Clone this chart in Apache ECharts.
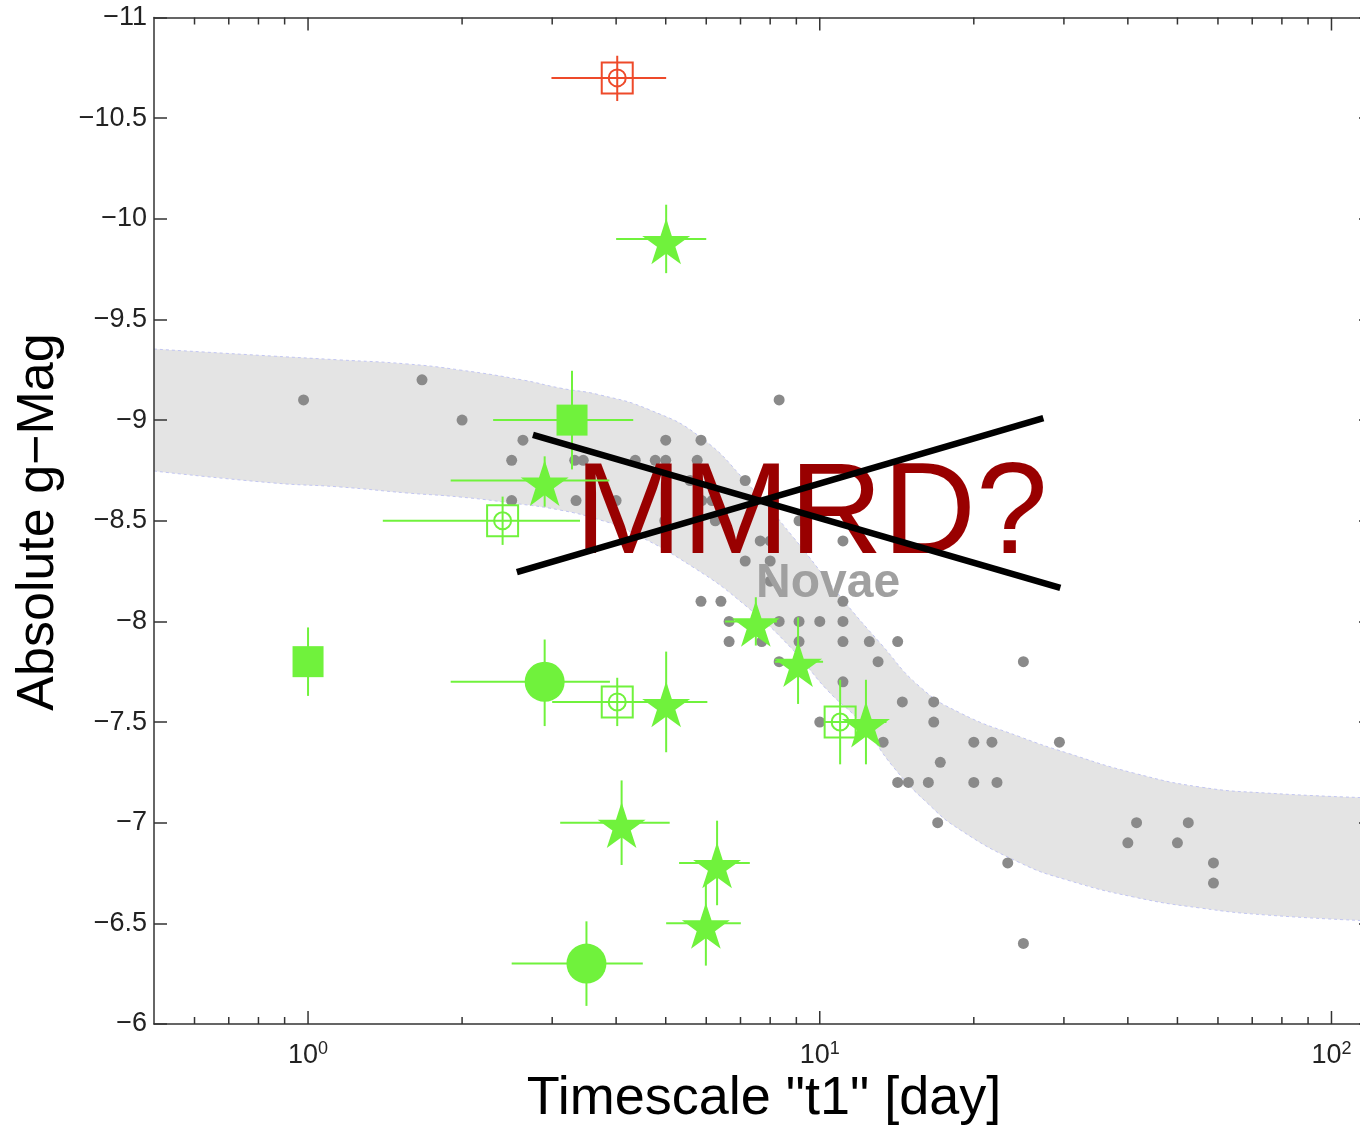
<!DOCTYPE html>
<html><head><meta charset="utf-8">
<script src="https://cdn.jsdelivr.net/npm/echarts@6/dist/echarts.min.js"></script>
<style>html,body{margin:0;padding:0;background:#fff;overflow:hidden}#c{width:1390px;height:1129px}</style>
</head><body><div id="c"></div>
<script>
// ---------- data ----------
const xRange = [0.5, 120];
const yRange = [-11, -6];
const yStep = 0.5;

// grey nova dots
const novaT = [1.67, 0.98, 8.33, 2.0, 2.63, 5.0, 5.86, 2.5, 3.32, 3.45, 4.36, 4.77, 5.0, 5.76,
  5.58, 7.15, 2.5, 3.34, 4.0, 5.88, 6.16, 4.98, 6.25, 9.11, 7.65, 8.0, 11.1, 7.15, 8.0, 8.0,
  5.86, 6.41, 11.1, 6.65, 8.33, 9.11, 10.0, 11.1, 6.65, 7.70, 9.11, 11.1, 12.5, 14.2,
  8.33, 13.0, 25.0, 11.1, 14.5, 16.7, 10.0, 16.7, 13.3, 20.0, 21.7, 29.4, 17.2,
  14.2, 14.9, 16.3, 20.0, 22.2, 17.0, 41.6, 52.5, 40.0, 50.0, 23.3, 58.8, 58.8, 25.0];
const novaMag = [-9.2, -9.1, -9.1, -9.0, -8.9, -8.9, -8.9, -8.8, -8.8, -8.8, -8.8, -8.8, -8.8, -8.8,
  -8.7, -8.7, -8.6, -8.6, -8.6, -8.6, -8.6, -8.5, -8.5, -8.5, -8.4, -8.4, -8.4, -8.3, -8.3, -8.2,
  -8.1, -8.1, -8.1, -8.0, -8.0, -8.0, -8.0, -8.0, -7.9, -7.9, -7.9, -7.9, -7.9, -7.9,
  -7.8, -7.8, -7.8, -7.7, -7.6, -7.6, -7.5, -7.5, -7.4, -7.4, -7.4, -7.4, -7.3,
  -7.2, -7.2, -7.2, -7.2, -7.2, -7.0, -7.0, -7.0, -6.9, -6.9, -6.8, -6.8, -6.7, -6.4];

// shaded MMRD band edges
const bandUpT = [0.5, 0.853, 1.153, 1.56, 1.98, 2.63, 3.11, 3.72, 4.66, 5.84, 7.21, 8.87, 11.11, 13.12, 15.71, 18.82, 24.66, 30.46, 41.03, 55.44, 74.98, 120];
const bandUpMag = [-9.353, -9.318, -9.299, -9.279, -9.249, -9.199, -9.159, -9.125, -9.05, -8.916, -8.688, -8.419, -8.106, -7.893, -7.674, -7.545, -7.426, -7.346, -7.247, -7.177, -7.147, -7.123];
const bandLoT = [0.5, 0.853, 1.153, 1.56, 1.98, 2.50, 3.11, 3.72, 4.20, 5.65, 7.21, 8.87, 10.34, 12.0, 13.92, 16.22, 18.82, 24.66, 30.46, 41.03, 55.44, 74.98, 120];
const bandLoMag = [-8.747, -8.688, -8.668, -8.638, -8.618, -8.588, -8.553, -8.504, -8.454, -8.27, -8.072, -7.858, -7.659, -7.50, -7.277, -7.098, -6.964, -6.80, -6.715, -6.631, -6.576, -6.541, -6.512];

// green stars
const starT = [5.01, 2.90, 5.01, 4.10, 6.30, 5.99, 7.50, 9.07, 12.31];
const starMag = [-9.90, -8.70, -7.60, -7.00, -6.80, -6.50, -8.00, -7.80, -7.50];
const starTLo = [4.00, 1.90, 4.16, 3.11, 5.31, 5.01, 6.53, 8.17, 11.25];
const starTHi = [6.00, 3.88, 6.03, 5.09, 7.30, 7.01, 8.25, 10.15, 13.5];
const starMagLo = [-10.07, -8.82, -7.85, -7.21, -7.01, -6.71, -8.12, -8.02, -7.71];
const starMagHi = [-9.73, -8.57, -7.35, -6.79, -6.59, -6.29, -7.88, -7.59, -7.29];
// green filled squares
const sqT = [3.28, 1.00];
const sqMag = [-9.00, -7.80];
const sqTLo = [2.30, 1.00];
const sqTHi = [4.32, 1.00];
const sqMagLo = [-9.245, -7.97];
const sqMagHi = [-8.755, -7.63];
// green filled circles
const circT = [2.90, 3.50];
const circMag = [-7.70, -6.30];
const circTLo = [1.90, 2.50];
const circTHi = [3.89, 4.51];
const circMagLo = [-7.91, -6.51];
const circMagHi = [-7.48, -6.09];
// green open squares (with circle)
const openT = [2.40, 4.02, 10.96];
const openMag = [-8.50, -7.60, -7.50];
const openTLo = [1.40, 3.00, 10.2];
const openTHi = [3.40, 5.38, 11.8];
const openMagLo = [-8.62, -7.72, -7.71];
const openMagHi = [-8.38, -7.48, -7.29];
// red open square
const redT = [4.02];
const redMag = [-10.70];
const redTLo = [2.99];
const redTHi = [5.01];
const redMagLo = [-10.81];
const redMagHi = [-10.585];

// crossing lines (data coords) and labels
const crossA = [[2.751, -8.926], [29.52, -8.166]];
const crossB = [[2.559, -8.245], [27.35, -9.010]];
const mmrdPos = [9.62, -8.515];
const novaePos = [10.38, -8.186];

// x tick values (log axis): major decades and minor ticks
const majorTicks = [1, 10, 100];
const minorTicks = [0.6, 0.7, 0.8, 0.9, 2, 3, 4, 5, 6, 7, 8, 9, 20, 30, 40, 50, 60, 70, 80, 90];

// ---------- build ----------
const GREEN = '#70f23c', RED = '#ee4a2a', GREY = '#8a8a8a';
const FONT = '"Liberation Sans", Arial, Helvetica, sans-serif';
const zip = (a, b) => a.map((v, i) => [v, b[i]]);
const starPath = 'path://M100,0 L122.45,69.1 L195.11,69.1 L136.33,111.8 L158.78,180.9 L100,138.2 L41.22,180.9 L63.67,111.8 L4.89,69.1 L77.55,69.1 Z';

const errData = [];
function addErr(T, M, TL, TH, ML, MH, col) {
  T.forEach((t, i) => errData.push([t, M[i], TL[i], TH[i], ML[i], MH[i], col]));
}
addErr(starT, starMag, starTLo, starTHi, starMagLo, starMagHi, 0);
addErr(sqT, sqMag, sqTLo, sqTHi, sqMagLo, sqMagHi, 0);
addErr(circT, circMag, circTLo, circTHi, circMagLo, circMagHi, 0);
addErr(openT, openMag, openTLo, openTHi, openMagLo, openMagHi, 0);
addErr(redT, redMag, redTLo, redTHi, redMagLo, redMagHi, 1);

const tickData = majorTicks.map(v => [v, -6, 1]).concat(minorTicks.map(v => [v, -6, 0]));

const bandUp = zip(bandUpT, bandUpMag);
const bandLo = zip(bandLoT, bandLoMag);

const fmtMinus = v => (v < 0 ? '\u2212' : '') + Math.abs(v);
const solid = {opacity: 1};

const chart = echarts.init(document.getElementById('c'), null, {renderer: 'canvas'});
chart.setOption({
  animation: false,
  backgroundColor: '#fff',
  grid: {left: 154, top: 17.5, width: 1218, height: 1006.5, containLabel: false},
  xAxis: [{
    type: 'log', logBase: 10, min: xRange[0], max: xRange[1], position: 'bottom', z: 20,
    axisLine: {show: true, onZero: false, lineStyle: {color: '#333', width: 1.5}},
    axisTick: {show: false}, splitLine: {show: false}, minorTick: {show: false},
    axisLabel: {
      show: true, margin: 16, showMinLabel: false, showMaxLabel: false,
      formatter: v => { const l = Math.log10(v), r = Math.round(l); return Math.abs(l - r) < 1e-6 ? '{b|10}{s|' + r + '}' : ''; },
      rich: {
        b: {fontSize: 27, fontFamily: FONT, color: '#222'},
        s: {fontSize: 18, fontFamily: FONT, color: '#222', padding: [0, 0, 14, 0]}
      }
    }
  }, {
    type: 'log', logBase: 10, min: xRange[0], max: xRange[1], position: 'top', z: 20,
    axisLine: {show: true, onZero: false, lineStyle: {color: '#333', width: 1.5}},
    axisTick: {show: false}, axisLabel: {show: false}, splitLine: {show: false}
  }],
  yAxis: [{
    type: 'value', inverse: true, min: yRange[0], max: yRange[1], interval: yStep, position: 'left', z: 20,
    axisLine: {show: true, onZero: false, lineStyle: {color: '#333', width: 1.5}},
    axisTick: {show: true, inside: true, length: 13, lineStyle: {color: '#333', width: 1.5}},
    splitLine: {show: false},
    axisLabel: {margin: 7, fontSize: 27, fontFamily: FONT, color: '#222', formatter: fmtMinus}
  }, {
    type: 'value', inverse: true, min: yRange[0], max: yRange[1], interval: yStep, position: 'right', z: 20,
    axisLine: {show: true, onZero: false, lineStyle: {color: '#333', width: 1.5}},
    axisTick: {show: true, inside: true, length: 13, lineStyle: {color: '#333', width: 1.5}},
    splitLine: {show: false}, axisLabel: {show: false}
  }],
  graphic: [
    {type: 'text', x: 39, y: 522, rotation: Math.PI / 2, z: 100,
     style: {text: 'Absolute g\u2212Mag', font: '52px ' + FONT, fill: '#000', textAlign: 'center', textVerticalAlign: 'middle', align: 'center', verticalAlign: 'middle'}},
    {type: 'text', x: 764, y: 1099, z: 100,
     style: {text: 'Timescale "t1" [day]', font: '54px ' + FONT, fill: '#000', textAlign: 'center', textVerticalAlign: 'middle', align: 'center', verticalAlign: 'middle'}}
  ],
  series: [
    // band: grey area under upper edge, then white area under lower edge
    {type: 'line', z: 1, silent: true, data: bandUp, symbol: 'none', smooth: 0.5,
     lineStyle: {color: '#c2c6f2', width: 1, type: [3, 3]}, areaStyle: {color: '#e4e4e4', opacity: 1, origin: 'end'}},
    {type: 'line', z: 1.5, silent: true, data: bandLo, symbol: 'none', smooth: 0.5,
     lineStyle: {color: '#c2c6f2', width: 1, type: [3, 3]}, areaStyle: {color: '#ffffff', opacity: 1, origin: 'end'}},
    {type: 'scatter', z: 3, data: zip(novaT, novaMag), symbol: 'circle', symbolSize: 11, itemStyle: {color: GREY, opacity: 1}},
    {type: 'scatter', z: 4, silent: true, data: [novaePos], symbolSize: 0, itemStyle: solid,
     label: {show: true, position: 'inside', formatter: 'Novae', fontSize: 48, fontWeight: 'bold', fontFamily: FONT, color: '#a0a0a0', opacity: 1}},
    {type: 'scatter', z: 4, silent: true, data: [mmrdPos], symbolSize: 0, itemStyle: solid,
     label: {show: true, position: 'inside', formatter: 'MMRD?', fontSize: 129, fontFamily: FONT, color: '#990000', opacity: 1}},
    { // error bars
      type: 'custom', z: 5, silent: true, data: errData,
      renderItem: (p, api) => {
        const c = api.coord([api.value(0), api.value(1)]);
        const l = api.coord([api.value(2), api.value(1)]);
        const r = api.coord([api.value(3), api.value(1)]);
        const t = api.coord([api.value(0), api.value(4)]);
        const b = api.coord([api.value(0), api.value(5)]);
        const col = api.value(6) === 1 ? RED : GREEN;
        return {type: 'group', children: [
          {type: 'line', shape: {x1: l[0], y1: c[1], x2: r[0], y2: c[1]}, style: {stroke: col, lineWidth: 2}},
          {type: 'line', shape: {x1: c[0], y1: t[1], x2: c[0], y2: b[1]}, style: {stroke: col, lineWidth: 2}}
        ]};
      }
    },
    {type: 'scatter', z: 6, data: zip(starT, starMag), symbol: starPath, symbolSize: [48, 46], symbolOffset: [0, 2.4], itemStyle: {color: GREEN, opacity: 1}},
    {type: 'scatter', z: 6, data: zip(sqT, sqMag), symbol: 'rect', symbolSize: 31, itemStyle: {color: GREEN, opacity: 1}},
    {type: 'scatter', z: 6, data: zip(circT, circMag), symbol: 'circle', symbolSize: 40, itemStyle: {color: GREEN, opacity: 1}},
    {type: 'scatter', z: 6, data: zip(openT, openMag), symbol: 'rect', symbolSize: 31, itemStyle: {color: 'rgba(0,0,0,0)', borderColor: GREEN, borderWidth: 2, opacity: 1}},
    {type: 'scatter', z: 6, data: zip(openT, openMag), symbol: 'circle', symbolSize: 17, itemStyle: {color: 'rgba(0,0,0,0)', borderColor: GREEN, borderWidth: 2, opacity: 1}},
    {type: 'scatter', z: 6, data: zip(redT, redMag), symbol: 'rect', symbolSize: 31, itemStyle: {color: 'rgba(0,0,0,0)', borderColor: RED, borderWidth: 2, opacity: 1}},
    {type: 'scatter', z: 6, data: zip(redT, redMag), symbol: 'circle', symbolSize: 17, itemStyle: {color: 'rgba(0,0,0,0)', borderColor: RED, borderWidth: 2, opacity: 1}},
    {type: 'line', z: 7, silent: true, data: crossA, symbol: 'none', lineStyle: {color: '#000', width: 6.5, cap: 'butt'}},
    {type: 'line', z: 7, silent: true, data: crossB, symbol: 'none', lineStyle: {color: '#000', width: 6.5, cap: 'butt'}},
    { // x-axis ticks (bottom and top), major and minor
      type: 'custom', z: 8, silent: true, data: tickData,
      renderItem: (p, api) => {
        const v = api.value(0), L = api.value(2) ? 13 : 7;
        const bt = api.coord([v, yRange[1]]), tp = api.coord([v, yRange[0]]);
        return {type: 'group', children: [
          {type: 'line', shape: {x1: bt[0], y1: bt[1], x2: bt[0], y2: bt[1] - L}, style: {stroke: '#333', lineWidth: 1.5}},
          {type: 'line', shape: {x1: tp[0], y1: tp[1], x2: tp[0], y2: tp[1] + L}, style: {stroke: '#333', lineWidth: 1.5}}
        ]};
      }
    }
  ]
});
</script>
</body></html>
